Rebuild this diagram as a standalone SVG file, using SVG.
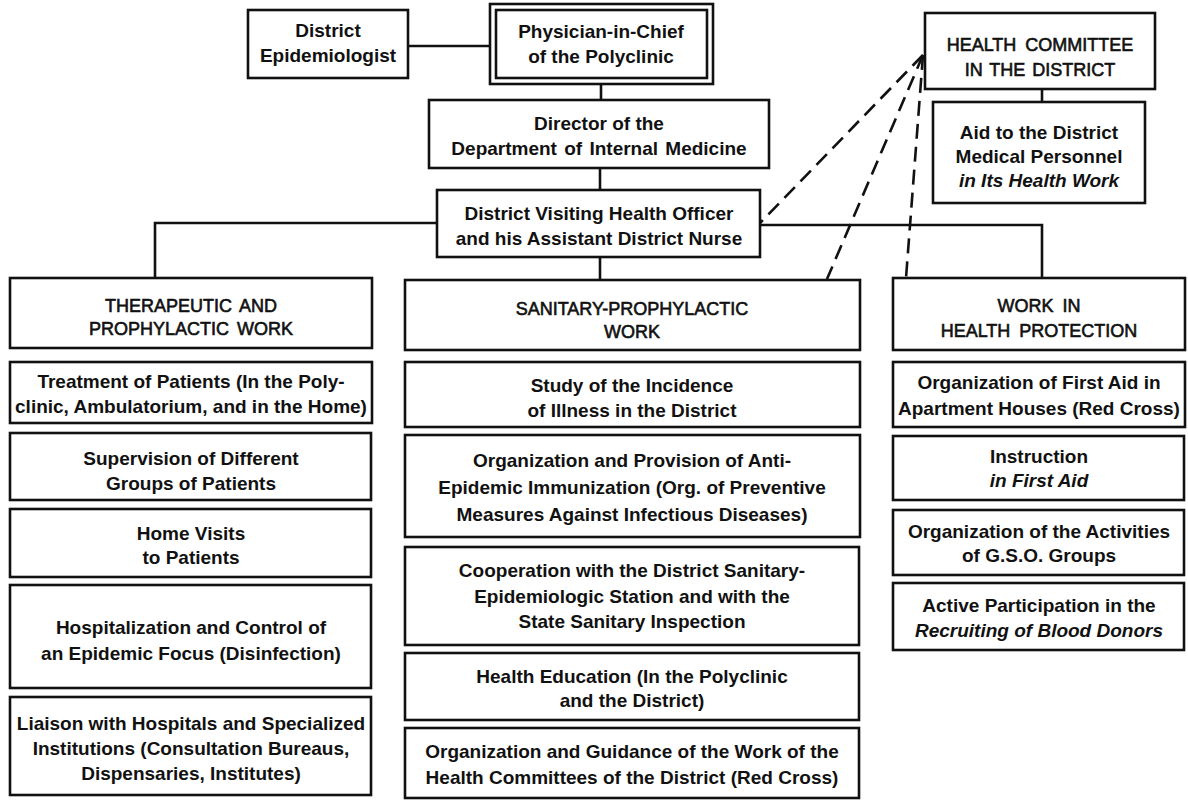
<svg xmlns="http://www.w3.org/2000/svg" width="1188" height="800" viewBox="0 0 1188 800">
<style>
.box{fill:#fff;stroke:#111;stroke-width:2.6}
.ln{fill:none;stroke:#111;stroke-width:2.6}
.dash{fill:none;stroke:#111;stroke-width:2.6;stroke-dasharray:15 8}
text{font-family:"Liberation Sans",Arial,sans-serif;font-weight:bold;font-size:19px;fill:#111;text-anchor:middle}
.cap{font-weight:normal;font-size:18px;stroke:#111;stroke-width:0.6}
.it{font-style:italic}
</style>
<rect width="1188" height="800" fill="#fff"/>
<g id="connectors">
<line class="ln" x1="408" y1="46" x2="490" y2="46"/>
<line class="ln" x1="601" y1="84" x2="601" y2="100"/>
<line class="ln" x1="600" y1="168" x2="600" y2="190"/>
<polyline class="ln" points="437,223 155,223 155,278"/>
<polyline class="ln" points="760,225 1042,225 1042,278"/>
<line class="ln" x1="600" y1="257" x2="600" y2="280"/>
<line class="ln" x1="1042" y1="89" x2="1042" y2="102"/>
<line class="dash" x1="923" y1="55" x2="760" y2="223"/>
<line class="dash" x1="923" y1="55" x2="827" y2="279"/>
<line class="dash" x1="923" y1="55" x2="906" y2="278"/>
</g>
<g id="epidemiologist"><rect class="box" x="248" y="10" width="160" height="68"/>
<text x="328" y="37">District</text><text x="328" y="62">Epidemiologist</text></g>
<g id="physician"><rect class="box" x="490" y="4" width="223" height="80"/><rect class="box" x="496" y="10" width="211" height="68"/>
<text x="601" y="38">Physician-in-Chief</text><text x="601" y="63">of the Polyclinic</text></g>
<g id="health-committee"><rect class="box" x="925" y="13" width="230" height="76"/>
<text x="1040" y="51" class="cap" word-spacing="4">HEALTH COMMITTEE</text><text x="1040" y="76" class="cap" word-spacing="2">IN THE DISTRICT</text></g>
<g id="aid"><rect class="box" x="933" y="102" width="212" height="101"/>
<text x="1039" y="139">Aid to the District</text><text x="1039" y="163">Medical Personnel</text><text x="1039" y="187" class="it">in Its Health Work</text></g>
<g id="director"><rect class="box" x="429" y="100" width="340" height="68"/>
<text x="599" y="130">Director of the</text><text x="599" y="155" word-spacing="2">Department of Internal Medicine</text></g>
<g id="visiting"><rect class="box" x="437" y="190" width="323" height="67"/>
<text x="599" y="220">District Visiting Health Officer</text><text x="599" y="245">and his Assistant District Nurse</text></g>

<g id="therapeutic"><rect class="box" x="10" y="278" width="362" height="70"/>
<text x="191" y="312" class="cap" word-spacing="3">THERAPEUTIC AND</text><text x="191" y="335" class="cap" word-spacing="3">PROPHYLACTIC WORK</text></g>
<g id="treatment"><rect class="box" x="10" y="362" width="362" height="61"/>
<text x="191" y="388">Treatment of Patients (In the Poly-</text><text x="191" y="413">clinic, Ambulatorium, and in the Home)</text></g>
<g id="supervision"><rect class="box" x="10" y="433" width="361" height="67"/>
<text x="191" y="465">Supervision of Different</text><text x="191" y="490">Groups of Patients</text></g>
<g id="home-visits"><rect class="box" x="10" y="509" width="361" height="68"/>
<text x="191" y="540">Home Visits</text><text x="191" y="564">to Patients</text></g>
<g id="hospitalization"><rect class="box" x="10" y="585" width="361" height="103"/>
<text x="191" y="634">Hospitalization and Control of</text><text x="191" y="660">an Epidemic Focus (Disinfection)</text></g>
<g id="liaison"><rect class="box" x="10" y="697" width="361" height="98"/>
<text x="191" y="730">Liaison with Hospitals and Specialized</text><text x="191" y="755">Institutions (Consultation Bureaus,</text><text x="191" y="780">Dispensaries, Institutes)</text></g>

<g id="sanitary"><rect class="box" x="405" y="280" width="455" height="70"/>
<text x="632" y="315" class="cap">SANITARY-PROPHYLACTIC</text><text x="632" y="338" class="cap">WORK</text></g>
<g id="study"><rect class="box" x="405" y="362" width="455" height="65"/>
<text x="632" y="392">Study of the Incidence</text><text x="632" y="417">of Illness in the District</text></g>
<g id="immunization"><rect class="box" x="405" y="435" width="455" height="102"/>
<text x="632" y="467">Organization and Provision of Anti-</text><text x="632" y="494">Epidemic Immunization (Org. of Preventive</text><text x="632" y="521">Measures Against Infectious Diseases)</text></g>
<g id="cooperation"><rect class="box" x="405" y="547" width="454" height="98"/>
<text x="632" y="577">Cooperation with the District Sanitary-</text><text x="632" y="603">Epidemiologic Station and with the</text><text x="632" y="628">State Sanitary Inspection</text></g>
<g id="education"><rect class="box" x="405" y="653" width="454" height="67"/>
<text x="632" y="683">Health Education (In the Polyclinic</text><text x="632" y="707">and the District)</text></g>
<g id="guidance"><rect class="box" x="405" y="728" width="454" height="70"/>
<text x="632" y="758">Organization and Guidance of the Work of the</text><text x="632" y="784">Health Committees of the District (Red Cross)</text></g>

<g id="health-protection"><rect class="box" x="893" y="278" width="292" height="72"/>
<text x="1039" y="312" class="cap" word-spacing="4">WORK IN</text><text x="1039" y="337" class="cap" word-spacing="4">HEALTH PROTECTION</text></g>
<g id="first-aid-org"><rect class="box" x="893" y="362" width="292" height="65"/>
<text x="1039" y="389">Organization of First Aid in</text><text x="1039" y="415">Apartment Houses (Red Cross)</text></g>
<g id="instruction"><rect class="box" x="893" y="436" width="291" height="64"/>
<text x="1039" y="463">Instruction</text><text x="1039" y="487" class="it">in First Aid</text></g>
<g id="gso"><rect class="box" x="893" y="510" width="291" height="65"/>
<text x="1039" y="538">Organization of the Activities</text><text x="1039" y="562">of G.S.O. Groups</text></g>
<g id="donors"><rect class="box" x="893" y="583" width="291" height="67"/>
<text x="1039" y="612">Active Participation in the</text><text x="1039" y="637" class="it">Recruiting of Blood Donors</text></g>
</svg>
